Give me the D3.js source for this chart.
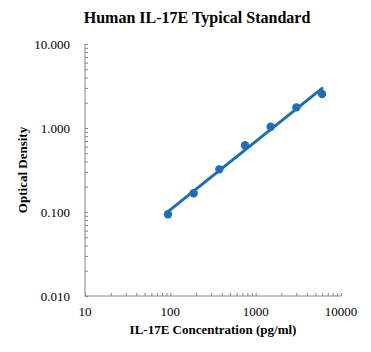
<!DOCTYPE html>
<html>
<head>
<meta charset="utf-8">
<script src="https://cdn.jsdelivr.net/npm/d3@7"></script>
<style>
  body { margin: 0; background: #fff; }
  text { font-family: "Liberation Serif", "Times New Roman", serif; }
</style>
</head>
<body>
<script>
// standard curve points (pg/ml vs OD)
var conc = [93.75, 187.5, 375, 750, 1500, 3000, 6000];
var od = [0.094, 0.167, 0.322, 0.622, 1.036, 1.76, 2.54];
var xTickValues = [10, 100, 1000, 10000];
var yTickValues = [0.01, 0.1, 1, 10];

var svgWidth = 371,
    svgHeight = 352;
var margin = { top: 44, right: 30, bottom: 56, left: 85 };
var width = 341 - margin.left,
    height = 296 - margin.top;

var svg = d3.select("body").append("svg")
    .attr("width", svgWidth)
    .attr("height", svgHeight);

var g = svg.append("g")
    .attr("transform", "translate(" + margin.left + "," + margin.top + ")");

var x = d3.scaleLog().domain([10, 10000]).range([0, width]);
var y = d3.scaleLog().domain([0.01, 10]).range([height, 0]);

// minor ticks 1..9 per decade, drawn inside the plot
function logTicks(lo, hi) {
  var t = [];
  for (var d = lo; d < hi; d *= 10)
    for (var k = 1; k < 10; k++) t.push(+(d * k).toPrecision(3));
  t.push(hi);
  return t;
}

var axisColor = "#868686";

var xAxis = g.append("g")
    .attr("transform", "translate(0," + height + ")")
    .call(d3.axisTop(x).tickValues(logTicks(10, 10000)).tickSize(3).tickFormat(""));
var yAxis = g.append("g")
    .call(d3.axisRight(y).tickValues(logTicks(0.01, 10)).tickSize(3).tickFormat(""));
[xAxis, yAxis].forEach(function(a) {
  a.selectAll("line, path").attr("stroke", axisColor);
  a.select(".domain").attr("d", a === xAxis ? "M0,0H" + width : "M0,0V" + height);
});

// tick labels
g.selectAll(".xlab").data(xTickValues).enter().append("text")
    .attr("x", d => x(d))
    .attr("y", height + 20)
    .attr("text-anchor", "middle")
    .attr("font-size", 13)
    .text(d => d);
g.selectAll(".ylab").data(yTickValues).enter().append("text")
    .attr("x", -15)
    .attr("y", d => y(d) + 4.5)
    .attr("text-anchor", "end")
    .attr("font-size", 13)
    .text(d => d3.format(".3f")(d));

// power-law fit in log-log space
var lx = conc.map(Math.log10), ly = od.map(Math.log10);
var mx = d3.mean(lx), my = d3.mean(ly);
var slope = d3.sum(lx, (v, i) => (v - mx) * (ly[i] - my)) / d3.sum(lx, v => (v - mx) * (v - mx));
var fit = d3.extent(conc).map(c => ({ c: c, v: Math.pow(10, my + slope * (Math.log10(c) - mx)) }));

var blue = "#1f6db5";
g.append("path")
    .datum(fit)
    .attr("fill", "none")
    .attr("stroke", blue)
    .attr("stroke-width", 3)
    .attr("stroke-linecap", "round")
    .attr("d", d3.line().x(d => x(d.c)).y(d => y(d.v)));

g.selectAll(".pt").data(conc).enter().append("circle")
    .attr("cx", d => x(d))
    .attr("cy", (d, i) => y(od[i]))
    .attr("r", 4.2)
    .attr("fill", blue);

// titles
svg.append("text")
    .attr("x", 197).attr("y", 23)
    .attr("text-anchor", "middle")
    .attr("font-size", 16).attr("font-weight", "bold")
    .text("Human IL-17E Typical Standard");
svg.append("text")
    .attr("x", 213).attr("y", 334)
    .attr("text-anchor", "middle")
    .attr("font-size", 13).attr("font-weight", "bold")
    .text("IL-17E Concentration (pg/ml)");
svg.append("text")
    .attr("transform", "translate(27,170) rotate(-90)")
    .attr("text-anchor", "middle")
    .attr("font-size", 13).attr("font-weight", "bold")
    .text("Optical Density");
</script>
</body>
</html>
